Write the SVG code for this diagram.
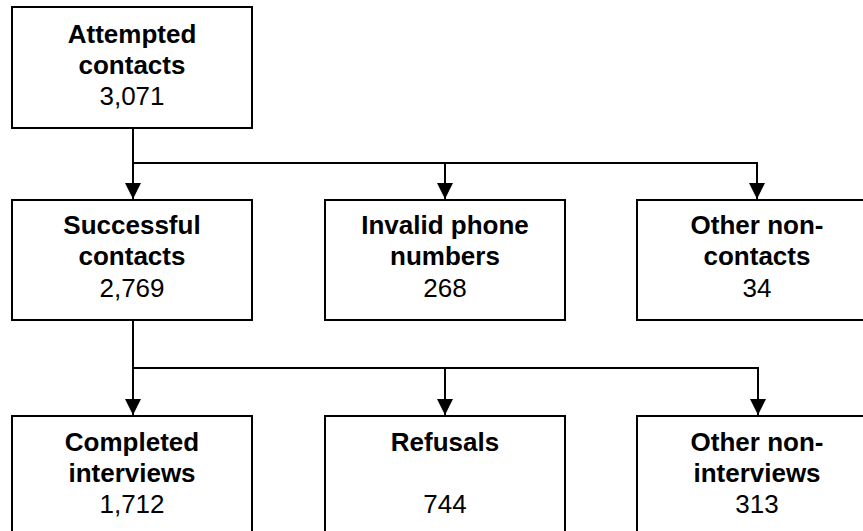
<svg xmlns="http://www.w3.org/2000/svg" width="863" height="531" viewBox="0 0 863 531">
<style>
.box{fill:#fff;stroke:#000;stroke-width:2}
.t{font-family:"Liberation Sans",Arial,sans-serif;font-size:26px;fill:#000;text-anchor:middle}
.b{font-weight:bold}
.c{fill:none;stroke:#000;stroke-width:2}
</style>
<defs>
<marker id="ah" markerUnits="userSpaceOnUse" markerWidth="16" markerHeight="16" refX="16" refY="8" orient="auto" viewBox="0 0 16 16">
<path d="M0,0 L16,8 L0,16 z" fill="#000"/>
</marker>
</defs>
<rect width="863" height="531" fill="#fff"/>
<g id="connectors">
<path class="c" d="M133,128 V199" marker-end="url(#ah)"/>
<path class="c" d="M133,163 H757 V199" marker-end="url(#ah)"/>
<path class="c" d="M445,163 V199" marker-end="url(#ah)"/>
<path class="c" d="M133,320 V415" marker-end="url(#ah)"/>
<path class="c" d="M133,368 H758 V415" marker-end="url(#ah)"/>
<path class="c" d="M445,368 V415" marker-end="url(#ah)"/>
</g>
<g id="attempted">
<rect class="box" x="12" y="7" width="240" height="121"/>
<text class="t b" x="132" y="43">Attempted</text>
<text class="t b" x="132" y="74">contacts</text>
<text class="t" x="132" y="105">3,071</text>
</g>
<g id="successful">
<rect class="box" x="12" y="200" width="240" height="120"/>
<text class="t b" x="132" y="234">Successful</text>
<text class="t b" x="132" y="265">contacts</text>
<text class="t" x="132" y="297">2,769</text>
</g>
<g id="invalid">
<rect class="box" x="325" y="200" width="240" height="120"/>
<text class="t b" x="445" y="234">Invalid phone</text>
<text class="t b" x="445" y="265">numbers</text>
<text class="t" x="445" y="297">268</text>
</g>
<g id="noncontacts">
<rect class="box" x="637" y="200" width="240" height="120"/>
<text class="t b" x="757" y="234">Other non-</text>
<text class="t b" x="757" y="265">contacts</text>
<text class="t" x="757" y="297">34</text>
</g>
<g id="completed">
<rect class="box" x="12" y="416" width="240" height="120"/>
<text class="t b" x="132" y="451">Completed</text>
<text class="t b" x="132" y="482">interviews</text>
<text class="t" x="132" y="513">1,712</text>
</g>
<g id="refusals">
<rect class="box" x="325" y="416" width="240" height="120"/>
<text class="t b" x="445" y="451">Refusals</text>
<text class="t" x="445" y="513">744</text>
</g>
<g id="noninterviews">
<rect class="box" x="637" y="416" width="240" height="120"/>
<text class="t b" x="757" y="451">Other non-</text>
<text class="t b" x="757" y="482">interviews</text>
<text class="t" x="757" y="513">313</text>
</g>
</svg>
